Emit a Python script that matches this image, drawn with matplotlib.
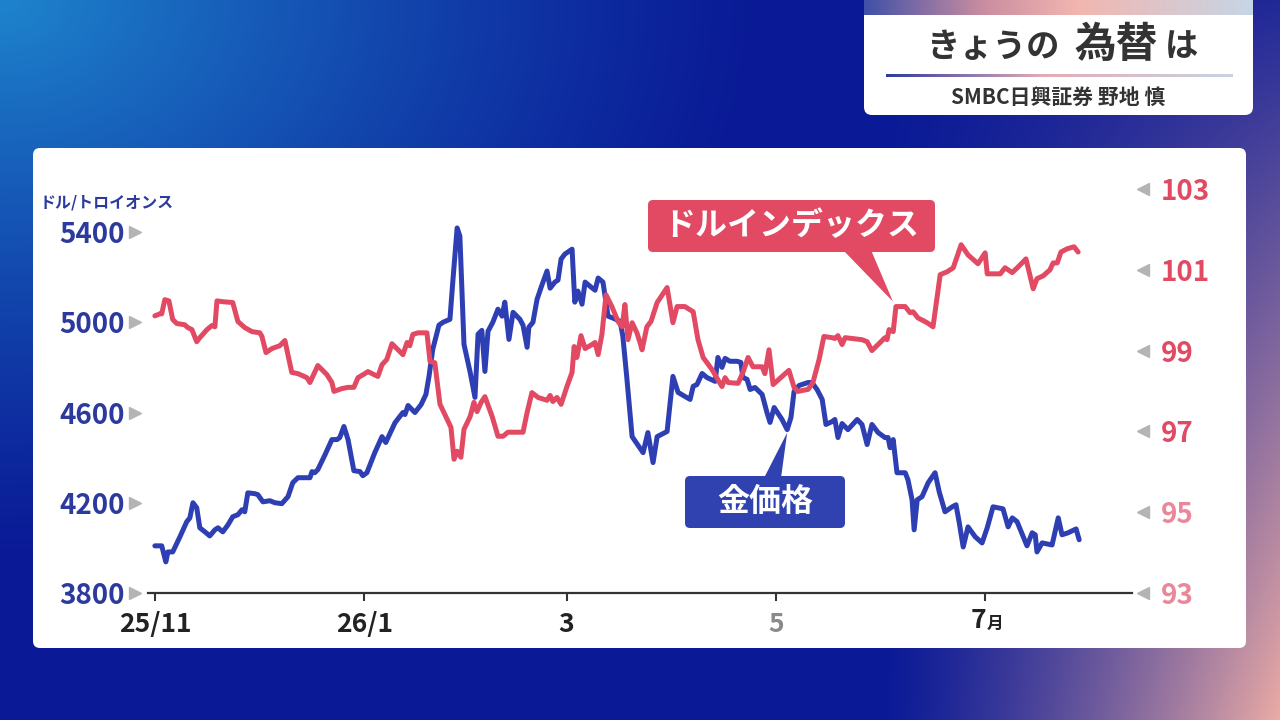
import numpy as np
import pandas as pd
import matplotlib
matplotlib.use("Agg")
import matplotlib.pyplot as plt
import matplotlib.transforms as mtransforms
from matplotlib.patches import FancyBboxPatch, Polygon

plt.rcParams['font.family'] = ['Noto Sans CJK JP', 'DejaVu Sans']

# ---------------- data ----------------
start_date = "2025-11-01"
tick_dates = ["2025-11-01", "2026-01-01", "2026-03-01", "2026-05-01", "2026-07-01"]
tick_labels = ["25/11", "26/1", "3", "5", "7"]

# days since start_date
gold_days = [0.0, 2.0, 3.2, 3.8, 5.2, 7.3, 9.3, 10.2, 11.1, 12.2,
             13.1, 14.6, 16.0, 17.5, 18.4, 19.8, 21.3, 22.7, 24.2, 25.4,
             26.2, 27.1, 29.2, 30.0, 31.5, 33.5, 35.0, 37.0, 38.8, 40.2,
             41.7, 43.7, 45.2, 45.8, 46.6, 47.5, 49.6, 51.6, 53.1, 53.9,
             55.1, 56.3, 58.0, 59.8, 60.6, 61.8, 64.1, 66.2, 67.3, 70.0,
             72.3, 72.9, 73.8, 75.8, 77.6, 79.0, 79.9, 81.0, 82.8, 84.0,
             86.0, 86.9, 88.1, 88.9, 90.1, 91.9, 93.3, 94.2, 95.3, 96.2,
             97.1, 98.5, 100.0, 101.2, 102.0, 103.2, 104.4, 106.4, 107.3, 108.5,
             109.0, 110.2, 111.4, 112.8, 114.3, 115.2, 116.6, 117.5, 118.4, 119.5,
             121.6, 122.4, 123.3, 124.5, 125.4, 126.8, 128.3, 129.2, 130.6, 132.1,
             133.6, 135.6, 136.4, 137.6, 139.1, 142.3, 143.7, 145.2, 146.4, 149.3,
             151.0, 152.5, 156.0, 156.9, 158.0, 159.5, 160.9, 163.3, 164.1, 165.3,
             166.2, 167.6, 169.7, 170.8, 171.4, 172.6, 173.5, 174.9, 177.0, 178.4,
             179.3, 180.5, 182.8, 184.3, 185.4, 186.3, 187.8, 190.4, 191.5, 193.0,
             194.5, 195.6, 197.4, 198.2, 199.1, 200.3, 202.0, 204.7, 206.1, 207.6,
             209.0, 210.8, 212.8, 213.7, 214.3, 215.2, 216.3, 218.7, 219.5, 220.7,
             221.3, 222.2, 223.6, 225.4, 227.4, 228.6, 230.3, 232.4, 233.5, 234.4,
             235.6, 237.0, 239.1, 241.1, 242.6, 244.3, 247.2, 248.7, 249.9, 251.3,
             254.2, 255.7, 256.6, 257.1, 258.6, 261.5, 263.3, 264.4, 266.2, 268.5,
             269.4]
gold_vals = [4009, 4009, 3938, 3982, 3982, 4049, 4116, 4133, 4200, 4178,
             4089, 4071, 4053, 4080, 4089, 4071, 4102, 4138, 4147, 4169,
             4160, 4244, 4240, 4236, 4204, 4209, 4200, 4196, 4227, 4289,
             4311, 4311, 4311, 4338, 4333, 4347, 4413, 4480, 4480, 4489,
             4538, 4480, 4342, 4338, 4320, 4333, 4422, 4493, 4467, 4555,
             4600, 4591, 4631, 4600, 4635, 4680, 4760, 4880, 4987, 5000,
             5013, 5191, 5418, 5382, 4902, 4778, 4667, 4947, 4964, 4782,
             4960, 5000, 5058, 5027, 5089, 4924, 5044, 5013, 4987, 4889,
             4978, 5000, 5102, 5164, 5227, 5151, 5178, 5187, 5280, 5302,
             5324, 5089, 5138, 5080, 5178, 5160, 5142, 5196, 5178, 5027,
             5018, 5004, 4938, 4747, 4493, 4422, 4511, 4378, 4493, 4516,
             4760, 4689, 4658, 4716, 4724, 4773, 4755, 4738, 4844, 4800,
             4840, 4827, 4827, 4822, 4755, 4747, 4702, 4711, 4680, 4600,
             4556, 4622, 4569, 4524, 4578, 4693, 4720, 4733, 4733, 4702,
             4658, 4547, 4560, 4569, 4489, 4551, 4524, 4569, 4547, 4458,
             4547, 4511, 4489, 4489, 4444, 4480, 4333, 4333, 4302, 4213,
             4080, 4213, 4227, 4289, 4333, 4249, 4160, 4182, 4191, 4116,
             4004, 4093, 4049, 4022, 4089, 4182, 4173, 4093, 4133, 4116,
             4009, 4067, 4058, 3982, 4022, 4013, 4133, 4058, 4067, 4084,
             4036]

dxy_days = [0.0, 1.5, 2.0, 2.9, 4.1, 5.2, 6.4, 8.7, 9.6, 10.8,
            12.2, 13.1, 15.2, 16.6, 17.5, 18.1, 19.8, 22.7, 24.2, 26.2,
            28.3, 30.6, 31.2, 32.4, 34.1, 36.4, 37.9, 39.9, 41.7, 44.3,
            45.2, 47.5, 50.1, 51.6, 52.2, 54.5, 56.3, 58.0, 59.2, 61.2,
            62.1, 65.0, 66.2, 67.6, 69.1, 72.3, 73.5, 74.3, 75.2, 76.7,
            79.3, 80.2, 81.6, 83.1, 84.5, 86.3, 87.2, 88.1, 89.2, 90.1,
            91.9, 93.0, 93.9, 95.1, 96.2, 98.3, 100.0, 101.5, 102.9, 107.3,
            108.5, 109.9, 111.7, 114.3, 115.2, 116.0, 117.2, 118.4, 120.1, 121.6,
            122.2, 123.0, 124.2, 125.4, 127.4, 128.3, 129.2, 130.3, 131.5, 133.2,
            135.0, 136.2, 137.0, 137.9, 139.1, 140.5, 141.4, 142.0, 143.4, 144.6,
            146.4, 149.3, 151.0, 152.2, 154.5, 156.9, 158.3, 159.8, 162.4, 164.1,
            165.3, 166.2, 167.1, 170.0, 171.4, 172.9, 174.3, 177.0, 177.8, 179.0,
            180.2, 182.8, 184.8, 186.3, 187.4, 190.4, 191.8, 193.6, 195.0, 197.4,
            198.2, 199.1, 200.3, 201.2, 206.1, 207.6, 209.0, 210.8, 212.8, 213.4,
            214.0, 215.2, 216.0, 218.7, 220.1, 221.0, 222.4, 225.1, 226.8, 228.9,
            230.9, 232.7, 235.0, 237.0, 239.9, 242.0, 242.6, 246.4, 247.8, 249.9,
            251.6, 253.9, 256.0, 257.1, 258.9, 260.9, 261.8, 263.0, 264.1, 265.9,
            267.9, 269.1]
dxy_vals = [99.86, 99.91, 99.91, 100.26, 100.23, 99.77, 99.67, 99.64, 99.57, 99.52,
            99.22, 99.32, 99.52, 99.62, 99.59, 100.23, 100.21, 100.19, 99.72, 99.57,
            99.47, 99.44, 99.35, 98.95, 99.05, 99.12, 99.25, 98.46, 98.43, 98.33,
            98.21, 98.63, 98.41, 98.21, 97.99, 98.06, 98.09, 98.09, 98.33, 98.43,
            98.48, 98.36, 98.65, 98.78, 99.17, 98.90, 99.20, 99.12, 99.40, 99.44,
            99.44, 98.73, 98.70, 97.67, 97.42, 97.10, 96.31, 96.51, 96.36, 97.05,
            97.37, 97.72, 97.49, 97.72, 97.86, 97.37, 96.88, 96.88, 96.98, 96.98,
            97.47, 97.96, 97.84, 97.77, 97.89, 97.74, 97.84, 97.67, 98.11, 98.46,
            99.10, 98.83, 99.37, 99.05, 99.15, 99.20, 98.90, 99.40, 100.38, 100.09,
            99.72, 99.59, 100.14, 99.27, 99.69, 99.44, 99.20, 99.02, 99.59, 99.72,
            100.19, 100.56, 99.69, 100.09, 100.09, 99.96, 99.27, 98.83, 98.53, 98.28,
            98.11, 98.33, 98.21, 98.19, 98.46, 98.83, 98.60, 98.60, 98.43, 99.02,
            98.16, 98.36, 98.51, 98.09, 97.99, 98.04, 98.21, 98.78, 99.35, 99.32,
            99.30, 99.37, 99.15, 99.32, 99.27, 99.22, 99.00, 99.15, 99.32, 99.27,
            99.52, 99.47, 100.09, 100.09, 99.94, 99.96, 99.81, 99.69, 99.59, 100.88,
            100.95, 101.05, 101.62, 101.37, 101.15, 101.42, 100.90, 100.90, 101.05, 100.93,
            101.07, 101.27, 100.53, 100.78, 100.85, 101.00, 101.17, 101.17, 101.44, 101.52,
            101.57, 101.44]

gold_ticks = [3800, 4200, 4600, 5000, 5400]
dxy_ticks = [93, 95, 97, 99, 101, 103]

# ---------------- styles ----------------
GOLD = '#2e3fb4'
RED = '#e24a63'
NAVY = '#2b3a9c'
W, H = 1280, 720

fig = plt.figure(figsize=(12.8, 7.2), dpi=100)

# background gradient
bg = fig.add_axes([0, 0, 1, 1])
yy, xx = np.mgrid[0:H, 0:W].astype(float)
navy = np.array([10, 26, 150]) / 255
lightblue = np.array([30, 132, 205]) / 255
pink = np.array([236, 172, 165]) / 255
r = np.sqrt((xx / 760) ** 2 + (yy / 560) ** 2)
ab = np.clip(1 - r, 0, 1) ** 1.2
img = navy * (1 - ab[..., None]) + lightblue * ab[..., None]
ap = (np.clip((xx - 880) / 400, 0, 1) ** 1.3 * np.clip((yy + 80) / 800, 0, 1))[..., None]
img = img * (1 - ap) + pink * ap
bg.imshow(img, extent=[0, W, H, 0], aspect='auto', zorder=0, interpolation='bilinear')
bg.set_xlim(0, W)
bg.set_ylim(H, 0)
bg.axis('off')


def hgrad(stops, n=400):
    pos = np.array([s[0] for s in stops])
    cols = np.array([s[1] for s in stops]) / 255
    t = np.linspace(0, 1, n)
    arr = np.stack([np.interp(t, pos, cols[:, k]) for k in range(3)], axis=-1)
    return arr[None, :, :]


# white panel
bg.add_patch(FancyBboxPatch((33, 148), 1213, 500, boxstyle='round,pad=0,rounding_size=7',
                            fc='white', ec='none', zorder=1))
# title box
bg.add_patch(FancyBboxPatch((864, -20), 389, 135, boxstyle='round,pad=0,rounding_size=8',
                            fc='white', ec='none', zorder=1))
bg.imshow(hgrad([(0, (64, 80, 168)), (0.3, (200, 140, 160)), (0.55, (242, 182, 176)),
                 (1, (198, 214, 230))]),
          extent=[864, 1253, 15, 0], aspect='auto', zorder=2)
bg.imshow(hgrad([(0, (46, 58, 160)), (0.45, (226, 172, 182)), (1, (200, 212, 226))]),
          extent=[886, 1233, 77.5, 74.5], aspect='auto', zorder=2)
bg.set_xlim(0, W)
bg.set_ylim(H, 0)

bg.text(993, 47, 'きょうの', ha='center', va='center', fontsize=24, fontweight='bold',
        color='#333333', zorder=3)
bg.text(1116, 45, '為替', ha='center', va='center', fontsize=30, fontweight='bold',
        color='#333333', zorder=3)
bg.text(1182, 47, 'は', ha='center', va='center', fontsize=24, fontweight='bold',
        color='#333333', zorder=3)
bg.text(1058, 97, 'SMBC日興証券 野地 慎', ha='center', va='center', fontsize=15,
        fontweight='bold', color='#333333', zorder=3)
bg.text(40, 203, 'ドル/トロイオンス', ha='left', va='center', fontsize=11.5,
        fontweight='bold', color=NAVY, zorder=3)

# ---------------- main chart ----------------
start = pd.Timestamp(start_date)
tick_days = [(pd.Timestamp(d) - start).days for d in tick_dates]

ax = fig.add_axes([148 / W, 1 - 593 / H, 984 / W, 404 / H])
ax.patch.set_visible(False)
ax.plot(gold_days, gold_vals, color=GOLD, lw=3.6, solid_joinstyle='round',
        solid_capstyle='round', zorder=3)
ax.set_xlim(-2, 284.8)
ax.set_ylim(3800, 5590.6)
for s in ['left', 'right', 'top']:
    ax.spines[s].set_visible(False)
ax.spines['bottom'].set_color('#333333')
ax.spines['bottom'].set_linewidth(1.6)
ax.set_yticks(gold_ticks, labels=[str(v) for v in gold_ticks], fontsize=20,
              fontweight='bold', color=NAVY)
ax.tick_params(axis='y', length=0, pad=16.5)
ax.set_xticks(tick_days, labels=tick_labels[:4] + [''], fontsize=19, fontweight='bold',
              color='#222222')
ax.get_xticklabels()[3].set_color('#8a8a8a')
ax.tick_params(axis='x', length=6, width=1.5, color='#333333', pad=7, direction='out')

tr_x = mtransforms.blended_transform_factory(ax.transData, ax.transAxes)
ax.text(tick_days[4] + 0.3, -0.069, tick_labels[4], transform=tr_x, ha='right', va='center',
        fontsize=19, fontweight='bold', color='#222222')
ax.text(tick_days[4] + 0.3, -0.077, '月', transform=tr_x, ha='left', va='center',
        fontsize=12, fontweight='bold', color='#222222')

tr_y = mtransforms.blended_transform_factory(ax.transAxes, ax.transData)
ax.plot([-0.0132] * len(gold_ticks), gold_ticks, ls='none', marker='>', ms=9,
        color='#b4b4b4', transform=tr_y, clip_on=False)

ax2 = ax.twinx()
ax2.patch.set_visible(False)
ax2.plot(dxy_days, dxy_vals, color=RED, lw=3.6, solid_joinstyle='round',
         solid_capstyle='round', zorder=3)
ax2.set_ylim(93, 103)
ax2.set_xlim(-2, 284.8)
for s in ['left', 'right', 'top', 'bottom']:
    ax2.spines[s].set_visible(False)
ax2.set_yticks(dxy_ticks, labels=[str(v) for v in dxy_ticks], fontsize=20,
               fontweight='bold', color=RED)
for lbl, v in zip(ax2.get_yticklabels(), dxy_ticks):
    if v in (93, 95):
        lbl.set_color('#ea8799')
ax2.tick_params(axis='y', length=0, pad=21)
tr_y2 = mtransforms.blended_transform_factory(ax2.transAxes, ax2.transData)
ax2.plot([1.0112] * len(dxy_ticks), dxy_ticks, ls='none', marker='<', ms=9,
         color='#b4b4b4', transform=tr_y2, clip_on=False)

# ---------------- callouts ----------------
ov = fig.add_axes([0, 0, 1, 1])
ov.set_xlim(0, W)
ov.set_ylim(H, 0)
ov.axis('off')
ov.patch.set_visible(False)
inv = ov.transData.inverted()

i_red = 142
red_pt = inv.transform(ax2.transData.transform((dxy_days[i_red], dxy_vals[i_red])))
red_tip = (red_pt[0] - 3, red_pt[1] - 5)
ov.add_patch(Polygon([(843, 250), (871, 250), red_tip], closed=True, fc=RED, ec='none', zorder=4))
ov.add_patch(FancyBboxPatch((648, 200), 287, 52, boxstyle='round,pad=0,rounding_size=5',
                            fc=RED, ec='none', zorder=4))
ov.text(791, 226, 'ドルインデックス', ha='center', va='center', fontsize=23,
        fontweight='bold', color='white', zorder=5)

i_gold = 133
gold_pt = inv.transform(ax.transData.transform((gold_days[i_gold], gold_vals[i_gold])))
gold_tip = (gold_pt[0], gold_pt[1] + 3)
ov.add_patch(Polygon([(764, 478), (781, 478), gold_tip], closed=True, fc='#2f42b0',
                     ec='none', zorder=4))
ov.add_patch(FancyBboxPatch((685, 476), 160, 52, boxstyle='round,pad=0,rounding_size=5',
                            fc='#2f42b0', ec='none', zorder=4))
ov.text(765, 502, '金価格', ha='center', va='center', fontsize=23,
        fontweight='bold', color='white', zorder=5)

fig.savefig('out.png', dpi=100)
